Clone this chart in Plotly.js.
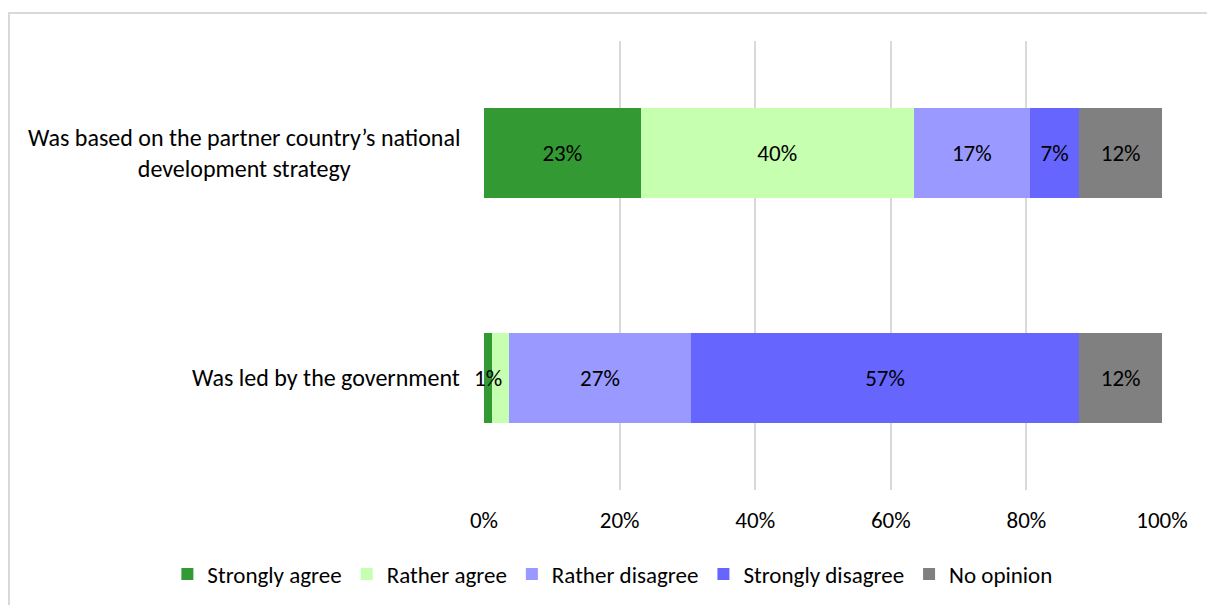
<!DOCTYPE html>
<html>
<head>
<meta charset="utf-8">
<script src="https://cdn.plot.ly/plotly-3.0.1.min.js"></script>
<style>
  html, body { margin: 0; padding: 0; overflow: hidden; background: #fff; }
  #chart { width: 1207px; height: 605px; position: absolute; left: 0; top: 0; }
  #frame { position: absolute; left: 8px; top: 12px; width: 1400px; height: 800px;
           border: 2px solid #d9d9d9; box-sizing: border-box; pointer-events: none; }
</style>
</head>
<body>
<div id="chart"></div>
<div id="frame"></div>
<script>
// Categories (top to bottom)
const categories = [
  "Was based on the partner country\u2019s national<br>development strategy",
  "Was led by the government"
];
const seriesNames = ["Strongly agree", "Rather agree", "Rather disagree", "Strongly disagree", "No opinion"];
// Values (%) per series, in category order
const stronglyAgree    = [23.1, 1.2];
const ratherAgree      = [40.3, 2.5];
const ratherDisagree   = [17.1, 26.8];
const stronglyDisagree = [7.3, 57.3];
const noOpinion        = [12.2, 12.2];
// Label mode per series and category: "bar" = inside label, "over" = label drawn on top (segment too thin), "" = hidden
const labelMode = [
  ["bar", "over"],
  ["bar", ""],
  ["bar", "bar"],
  ["bar", "bar"],
  ["bar", "bar"]
];
const colors = ["#339933", "#C6FFB0", "#9999FF", "#6666FF", "#808080"];
const xTicks = [0, 20, 40, 60, 80, 100];
const xTickText = ["0%", "20%", "40%", "60%", "80%", "100%"];

const FONT = "Carlito, Calibri, 'Open Sans', sans-serif";
const allSeries = [stronglyAgree, ratherAgree, ratherDisagree, stronglyDisagree, noOpinion];
const yCats = categories.map((c, i) => "c" + i);
const pct = v => Math.round(v) + "%";

const traces = allSeries.map((vals, s) => ({
  type: "bar",
  orientation: "h",
  name: seriesNames[s],
  x: vals,
  y: yCats,
  marker: { color: colors[s], line: { width: 0 } },
  text: vals.map((v, i) => labelMode[s][i] === "bar" ? pct(v) : ""),
  textposition: "inside",
  insidetextanchor: "middle",
  textangle: 0,
  constraintext: "none",
  textfont: { family: FONT, size: 23, color: "#000000" },
  hoverinfo: "skip",
  cliponaxis: false
}));

const annotations = categories.map((c, i) => ({
  xref: "paper", yref: "y",
  x: -0.033, y: yCats[i],
  xanchor: "right", yanchor: "middle",
  align: "center",
  text: c,
  showarrow: false,
  font: { family: FONT, size: 24, color: "#000000" }
}));

// Labels of thin segments, drawn over the bars at the segment centre
allSeries.forEach((vals, s) => {
  vals.forEach((v, i) => {
    if (labelMode[s][i] !== "over") return;
    let start = 0;
    for (let k = 0; k < s; k++) start += allSeries[k][i];
    annotations.push({
      xref: "x", yref: "y",
      x: start + v / 2, y: yCats[i],
      xanchor: "center", yanchor: "middle",
      text: pct(v),
      showarrow: false,
      font: { family: FONT, size: 23, color: "#000000" }
    });
  });
});

const layout = {
  width: 1207, height: 605,
  margin: { l: 484, r: 45, t: 41, b: 115, autoexpand: false },
  paper_bgcolor: "rgba(0,0,0,0)",
  plot_bgcolor: "rgba(0,0,0,0)",
  barmode: "stack",
  bargap: 0.6,
  showlegend: true,
  xaxis: {
    range: [0, 100],
    tickvals: xTicks,
    ticktext: xTickText,
    showgrid: true,
    gridcolor: "#d9d9d9",
    gridwidth: 2,
    zeroline: false,
    showline: false,
    ticks: "",
    ticklabelstandoff: 14,
    tickfont: { family: FONT, size: 23, color: "#000000" },
    fixedrange: true
  },
  yaxis: {
    type: "category",
    categoryorder: "array",
    categoryarray: yCats,
    autorange: "reversed",
    showticklabels: false,
    showgrid: false,
    zeroline: false,
    showline: false,
    ticks: "",
    fixedrange: true
  },
  legend: {
    orientation: "h",
    xref: "paper", x: -0.467, xanchor: "left",
    yref: "paper", y: -0.187, yanchor: "middle",
    itemwidth: 30,
    font: { family: FONT, size: 23, color: "#000000" },
    traceorder: "normal",
    itemclick: false, itemdoubleclick: false
  },
  annotations: annotations
};

Plotly.newPlot("chart", traces, layout, { displayModeBar: false, staticPlot: true });
</script>
</body>
</html>
